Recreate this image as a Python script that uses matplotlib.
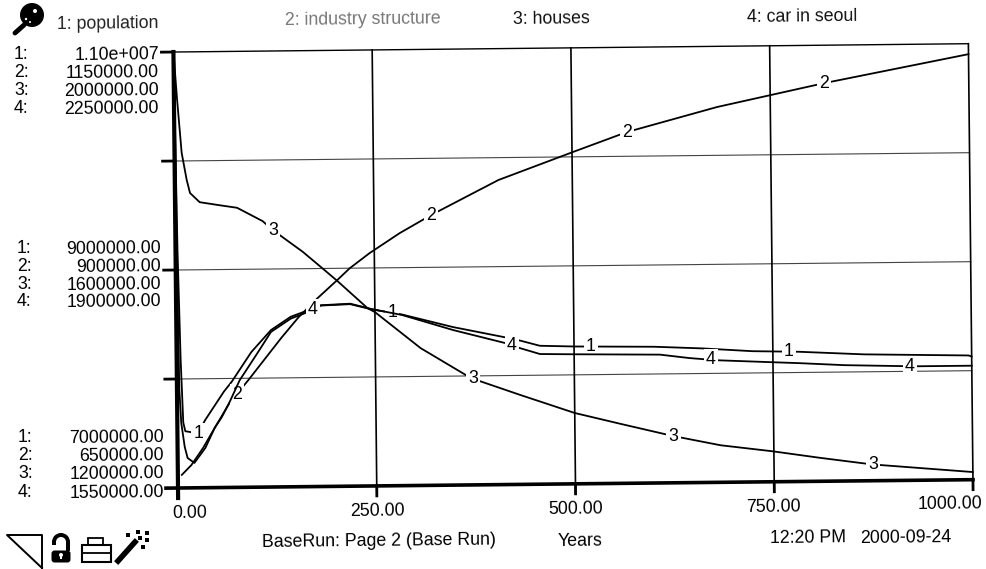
import matplotlib
matplotlib.use('Agg')
import matplotlib.pyplot as plt
from matplotlib.patches import Circle, Rectangle, FancyBboxPatch, Wedge
from matplotlib.transforms import Affine2D
import numpy as np

plt.rcParams['font.family'] = ['Liberation Sans', 'DejaVu Sans']

# population
t1 = [0, 2.5, 5, 7.5, 10, 26, 35, 59, 69, 94, 119, 144, 163, 182, 219, 246, 284, 348, 414, 432, 457, 501,
      601, 662, 724, 783, 865, 996, 1000]
pop = [11.0e6, 9.18e6, 8.18e6, 7.6e6, 7.52e6, 7.5e6, 7.62e6, 7.88e6, 7.97e6, 8.24e6, 8.44e6, 8.56e6, 8.61e6,
       8.66e6, 8.67e6, 8.62e6, 8.57e6, 8.45e6, 8.35e6, 8.32e6, 8.27e6, 8.26e6, 8.25e6, 8.23e6, 8.2e6, 8.19e6,
       8.16e6, 8.14e6, 8.13e6]
# industry structure
t2 = [5, 17, 32, 47, 66, 90, 132, 154, 178, 203, 219, 244, 282, 322, 407, 501, 569, 683, 818, 1000]
ind = [665e3, 676e3, 695.5e3, 718.5e3, 747e3, 773e3, 821e3, 844.5e3, 866e3, 886.5e3, 900e3, 917e3, 939.5e3,
       960e3, 999.3e3, 1030.5e3, 1052.7e3, 1080.4e3, 1106.5e3, 1138e3]
# houses
t3 = [0, 4, 9, 15, 19, 31, 56, 78, 110, 123, 160, 184, 203, 241, 250, 307, 370, 432, 500, 558, 623,
      683, 748, 808, 873, 1000]
houses = [2.0e6, 1.912e6, 1.815e6, 1.765e6, 1.741e6, 1.724e6, 1.718e6, 1.713e6, 1.688e6, 1.671e6,
          1.631e6, 1.601e6, 1.577e6, 1.526e6, 1.519e6, 1.452e6, 1.396e6, 1.364e6, 1.33e6, 1.309e6,
          1.286e6, 1.268e6, 1.256e6, 1.243e6, 1.23e6, 1.214e6]
# car in seoul
t4 = [0, 1, 3, 5, 9, 12.5, 21, 35, 47, 56, 66, 79, 100, 119, 144, 163, 182, 219, 246, 284, 348, 414, 429, 457,
      501, 608, 645, 680, 748, 783, 840, 927, 1000]
car = [2.25e6, 2.01e6, 1.707e6, 1.654e6, 1.616e6, 1.598e6, 1.59e6, 1.614e6, 1.646e6, 1.663e6, 1.687e6, 1.722e6,
       1.762e6, 1.799e6, 1.82e6, 1.829e6, 1.841e6, 1.843e6, 1.834e6, 1.824e6, 1.799e6, 1.777e6, 1.77e6, 1.759e6,
       1.758e6, 1.756e6, 1.75e6, 1.746e6, 1.742e6, 1.74e6, 1.736e6, 1.733e6, 1.733e6]

names = ['1: population', '2: industry structure', '3: houses', '4: car in seoul']
series_t = [t1, t2, t3, t4]
series_v = [pop, ind, houses, car]
ymins = [7000000, 650000, 1200000, 1550000]
ymaxs = [11000000, 1150000, 2000000, 2250000]
label_t = [[26, 272, 521, 770], [75, 322, 569, 818], [123, 373, 624, 875], [172, 422, 672, 922]]

top_labels = ['1.10e+007', '1150000.00', '2000000.00', '2250000.00']
mid_labels = ['9000000.00', '900000.00', '1600000.00', '1900000.00']
bot_labels = ['7000000.00', '650000.00', '1200000.00', '1550000.00']
xticks = [0, 250, 500, 750, 1000]
xticklabels = ['0.00', '250.00', '500.00', '750.00', '1000.00']
grid_pop = [8000000, 9000000, 10000000]

W, H = 986, 569
fig = plt.figure(figsize=(W / 100, H / 100), dpi=100)

# the page was scanned a little crooked
left, bottom, width, height = 178, 488, 795, 436
tilt = 0.6
rot = Affine2D().rotate_deg_around(left, H - bottom, tilt)

axes = []
for i in range(4):
    a = fig.add_axes([left / W, (H - bottom) / H, width / W, height / H])
    a.set_xlim(0, 1000)
    a.set_ylim(ymins[i], ymaxs[i])
    a.axis('off')
    a.patch.set_alpha(0)
    axes.append(a)
ax = axes[0]
tr = ax.transData + rot
ytick = 4000000 * 10 / height
xtick = 1000 * 12 / width

# grid
for g in grid_pop:
    ax.plot([0, 1000], [g, g], c='#444444', lw=0.8, transform=tr, clip_on=False, zorder=1)
    ax.plot([-xtick, 0], [g, g], c='k', lw=2, transform=tr, clip_on=False, zorder=3)
for x in xticks[1:]:
    ax.plot([x, x], [7000000 - ytick, 11000000], c='k', lw=1.2, transform=tr, clip_on=False, zorder=1)
    ax.plot([x, x], [7000000 - ytick, 7000000], c='k', lw=2, transform=tr, clip_on=False, zorder=3)

# frame
ax.plot([0, 1000], [11000000, 11000000], c='k', lw=1, transform=tr, clip_on=False, zorder=3)
ax.plot([-xtick, 0], [11000000, 11000000], c='k', lw=2, transform=tr, clip_on=False, zorder=3)
ax.plot([-xtick, 1000], [7000000, 7000000], c='k', lw=2.6, transform=tr, clip_on=False, zorder=3)
ax.plot([0, 0], [7000000 - ytick, 11000000], c='k', lw=3, transform=tr, clip_on=False, zorder=3)

# curves with their numbers on top
for i, a in enumerate(axes):
    a.plot(series_t[i], series_v[i], c='k', lw=1.3, transform=a.transData + rot, clip_on=False, zorder=4)
    for lt in label_t[i]:
        a.text(lt, np.interp(lt, series_t[i], series_v[i]), str(i + 1), transform=a.transData + rot,
               fontsize=12.8, ha='center', va='center', zorder=6,
               bbox=dict(fc='white', ec='none', pad=1.5))

# everything outside the plot is placed in pixels of the page
ov = fig.add_axes([0, 0, 1, 1], zorder=10)
ov.set_xlim(0, W)
ov.set_ylim(H, 0)
ov.axis('off')
ov.patch.set_alpha(0)


def txt(x, y, s, ha='left', color='k', size=12.8):
    ov.text(x, y, s, ha=ha, va='center', fontsize=size, color=color, rotation=tilt, rotation_mode='anchor')


txt(57, 25, names[0], color='#222222')
txt(285, 21, names[1], color='#777777')
txt(513, 20, names[2], color='#111111')
txt(747, 18, names[3], color='#111111')

for ys, labels, xl, xr in zip([[55, 73, 91, 109], [249, 267, 285, 302], [438, 456, 474, 493]],
                              [top_labels, mid_labels, bot_labels],
                              [14, 17, 18], [159, 161, 164]):
    for j in range(4):
        txt(xl, ys[j], '%d:' % (j + 1))
        txt(xr, ys[j], labels[j], ha='right')

for x, y, s in zip([190, 377, 576, 773, 950], [513, 511, 509, 507, 504], xticklabels):
    txt(x, y, s, ha='center')

txt(262, 543, 'BaseRun: Page 2 (Base Run)')
txt(580, 541, 'Years', ha='center')
txt(770, 539, '12:20 PM')
txt(860, 539, '2000-09-24')

# key icon
ov.add_patch(Circle((32, 15), 12, fc='k', ec='none'))
ov.add_patch(Circle((35, 11), 2, fc='white', ec='none'))
ov.add_patch(Circle((26, 19), 1.2, fc='white', ec='none'))
ov.add_patch(Circle((30, 22), 1, fc='white', ec='none'))
ov.plot([24, 15], [25, 33], c='k', lw=3.5, solid_capstyle='round')

# triangle
ov.plot([42, 7, 42, 42], [568, 535, 535, 568], c='k', lw=1.4)
# lock
ov.add_patch(Wedge((61, 542), 9, 180, 360, width=4, fc='k', ec='none'))
ov.add_patch(Rectangle((66, 542), 4, 9, fc='k', ec='none'))
ov.add_patch(Rectangle((52, 542), 4, 3, fc='k', ec='none'))
ov.add_patch(FancyBboxPatch((52, 551), 18, 11, boxstyle='round,pad=0.5,rounding_size=3', fc='k', ec='none'))
ov.add_patch(Circle((61, 555), 2, fc='white', ec='none'))
ov.add_patch(Rectangle((60.2, 555), 1.6, 4, fc='white', ec='none'))
# printer
ov.add_patch(Rectangle((88, 538), 15, 8, fc='white', ec='k', lw=1.3))
ov.add_patch(Rectangle((82, 545), 29, 17, fc='white', ec='k', lw=1.5))
ov.plot([82, 111], [553, 553], c='k', lw=1.3)
# wand
ov.plot([118, 135], [561, 542], c='k', lw=4)
ov.scatter([128, 138, 147, 143, 147, 140], [535, 532, 540, 547, 533, 538], s=5, c='k', marker='s', linewidths=0)

fig.savefig('out.png', dpi=100)
